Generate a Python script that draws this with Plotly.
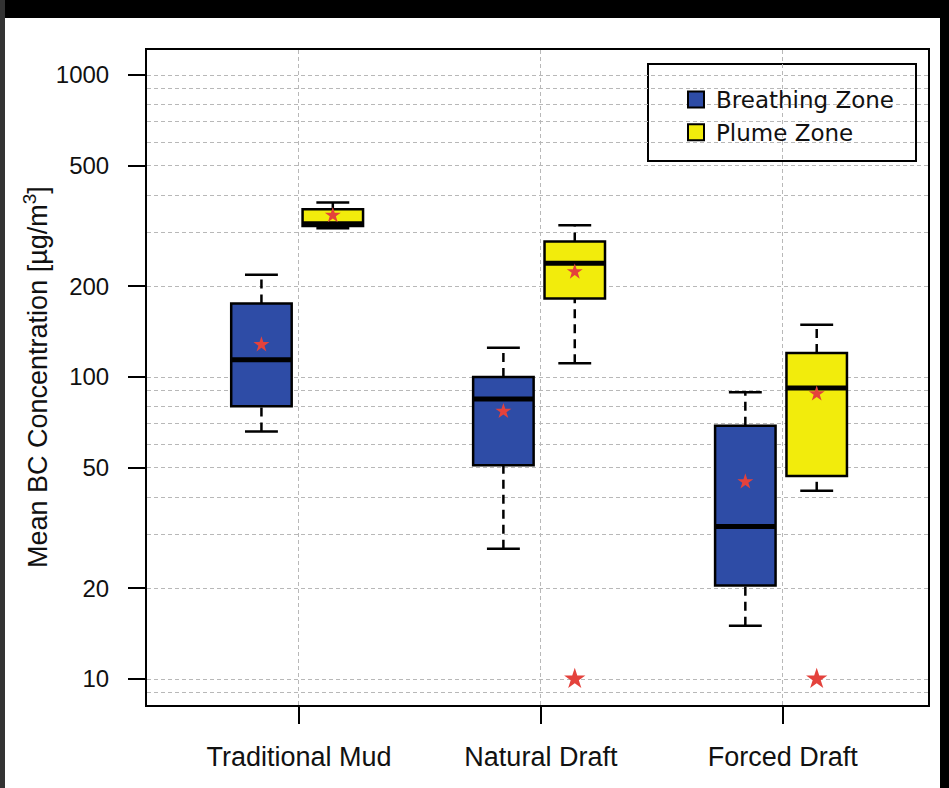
import plotly.graph_objects as go

# ---------------- data ----------------
categories = ["Traditional Mud", "Natural Draft", "Forced Draft"]
cat_pos = [1, 2, 3]

# Breathing Zone (blue)
bz_lower = [66, 27, 15]
bz_q1 = [80, 51, 20.4]
bz_median = [114, 84.5, 32]
bz_q3 = [175, 100, 69]
bz_upper = [218, 125, 89]
bz_mean = [128, 77, 45]

# Plume Zone (yellow)
pz_lower = [311, 111, 42]
pz_q1 = [316, 182, 47]
pz_median = [322, 238, 92]
pz_q3 = [359, 281, 120]
pz_upper = [378, 318, 149]
pz_mean = [343, 223, 88]
pz_star = [None, 10, 10]

y_tick_vals = [10, 20, 50, 100, 200, 500, 1000]
y_grid_vals = [9, 30, 40, 60, 70, 80, 90, 300, 400, 600, 700, 800, 900]

# ---------------- styling ----------------
BLUE = "#2E4CA6"
YELLOW = "#F2EC0C"
RED = "#E4423C"
GRID = "#B8B8B8"
TXT = "#111111"
BOX_W = 0.25
CAP_HW = 0.068
OFFSETS = {"bz": -0.155, "pz": 0.14}

fig = go.Figure()


def add_group(key, name, color, lower, q1, med, q3, upper, mean):
    off = OFFSETS[key]
    xs = [p + off for p in cat_pos]
    fig.add_trace(go.Box(
        x=xs, q1=q1, median=med, q3=q3, lowerfence=q1, upperfence=q3,
        width=BOX_W, fillcolor=color, line=dict(color="black", width=2.5),
        whiskerwidth=0, showlegend=False, hoverinfo="skip", name=name,
    ))
    wx, wy = [], []
    for x, lo, a, b, hi in zip(xs, lower, q1, q3, upper):
        wx += [x, x, None, x, x, None]
        wy += [lo, a, None, b, hi, None]
    fig.add_trace(go.Scatter(x=wx, y=wy, mode="lines",
                             line=dict(color="black", width=2.5, dash="9px,6px"),
                             showlegend=False, hoverinfo="skip"))
    cx, cy = [], []
    for x, lo, hi in zip(xs, lower, upper):
        cx += [x - CAP_HW, x + CAP_HW, None, x - CAP_HW, x + CAP_HW, None]
        cy += [lo, lo, None, hi, hi, None]
    fig.add_trace(go.Scatter(x=cx, y=cy, mode="lines",
                             line=dict(color="black", width=2.5),
                             showlegend=False, hoverinfo="skip"))
    mx, my = [], []
    for x, m in zip(xs, med):
        mx += [x - BOX_W / 2, x + BOX_W / 2, None]
        my += [m, m, None]
    fig.add_trace(go.Scatter(x=mx, y=my, mode="lines",
                             line=dict(color="black", width=5),
                             showlegend=False, hoverinfo="skip"))
    fig.add_trace(go.Scatter(x=xs, y=mean, mode="markers",
                             marker=dict(symbol="star", size=12, color=RED),
                             showlegend=False, hoverinfo="skip"))


add_group("bz", "Breathing Zone", BLUE, bz_lower, bz_q1, bz_median, bz_q3, bz_upper, bz_mean)
add_group("pz", "Plume Zone", YELLOW, pz_lower, pz_q1, pz_median, pz_q3, pz_upper, pz_mean)

fig.add_trace(go.Scatter(x=[p + OFFSETS["pz"] for p in cat_pos], y=pz_star, mode="markers",
                         marker=dict(symbol="star", size=16, color=RED),
                         showlegend=False, hoverinfo="skip"))

for nm, col in [("Breathing Zone", BLUE), ("Plume Zone", YELLOW)]:
    fig.add_trace(go.Scatter(x=[None], y=[None], mode="markers", name=nm,
                             marker=dict(symbol="square", size=19, color=col,
                                         line=dict(color="black", width=2))))

# ---------------- layout ----------------
W, H = 949, 788
L, R, T, B = 147, 21, 50, 83
pw, ph = W - L - R, H - T - B


def px_x(p):
    return (p - L) / pw


def px_y(p):
    return (H - B - p) / ph


fig.update_layout(
    width=W, height=H,
    margin=dict(l=L, r=R, t=T, b=B),
    paper_bgcolor="white", plot_bgcolor="white",
    boxmode="overlay",
    font=dict(family="Liberation Sans, Arial, sans-serif", color=TXT),
    legend=dict(
        x=px_x(676), y=px_y(78), xanchor="left", yanchor="top",
        bgcolor="rgba(0,0,0,0)", borderwidth=0,
        font=dict(family="DejaVu Sans", size=23, color=TXT),
        itemsizing="trace", tracegroupgap=0,
    ),
    xaxis=dict(
        range=[0.372, 3.6], tickmode="array", tickvals=cat_pos, ticktext=categories,
        showgrid=True, gridcolor=GRID, griddash="4px,3px", gridwidth=1,
        zeroline=False, showline=True, mirror=True, linecolor="black", linewidth=2,
        ticks="outside", ticklen=17, tickwidth=2, tickcolor="black",
        tickfont=dict(size=27, color=TXT), ticklabelstandoff=10,
    ),
    yaxis=dict(
        type="log", range=[0.914, 3.0828], tickmode="array",
        tickvals=y_tick_vals, ticktext=[str(v) for v in y_tick_vals],
        showgrid=True, gridcolor=GRID, griddash="4px,3px", gridwidth=1,
        minor=dict(tickmode="array", tickvals=y_grid_vals, showgrid=True,
                   gridcolor=GRID, griddash="4px,3px", gridwidth=1, ticks=""),
        zeroline=False, showline=True, mirror=True, linecolor="black", linewidth=2,
        ticks="outside", ticklen=17, tickwidth=2, tickcolor="black",
        tickfont=dict(size=24, color=TXT), ticklabelstandoff=14,
    ),
    annotations=[dict(
        text="Mean BC Concentration [µg/m<sup>3</sup>]", textangle=-90,
        xref="paper", yref="paper", x=px_x(36), y=px_y(377),
        xanchor="center", yanchor="middle", showarrow=False,
        font=dict(size=27, color=TXT),
    )],
    shapes=[
        # legend frame
        dict(type="rect", xref="paper", yref="paper", x0=px_x(648), x1=px_x(916),
             y0=px_y(64), y1=px_y(161), fillcolor="white",
             line=dict(color="black", width=2), layer="below"),
        # image border
        dict(type="rect", xref="paper", yref="paper", x0=px_x(0), x1=px_x(W),
             y0=px_y(0), y1=px_y(18), fillcolor="black", line=dict(width=0), layer="above"),
        dict(type="rect", xref="paper", yref="paper", x0=px_x(0), x1=px_x(5),
             y0=px_y(0), y1=px_y(H), fillcolor="#333333", line=dict(width=0), layer="above"),
        dict(type="rect", xref="paper", yref="paper", x0=px_x(940), x1=px_x(W),
             y0=px_y(0), y1=px_y(H), fillcolor="black", line=dict(width=0), layer="above"),
    ],
)

fig.write_html("out.html")
